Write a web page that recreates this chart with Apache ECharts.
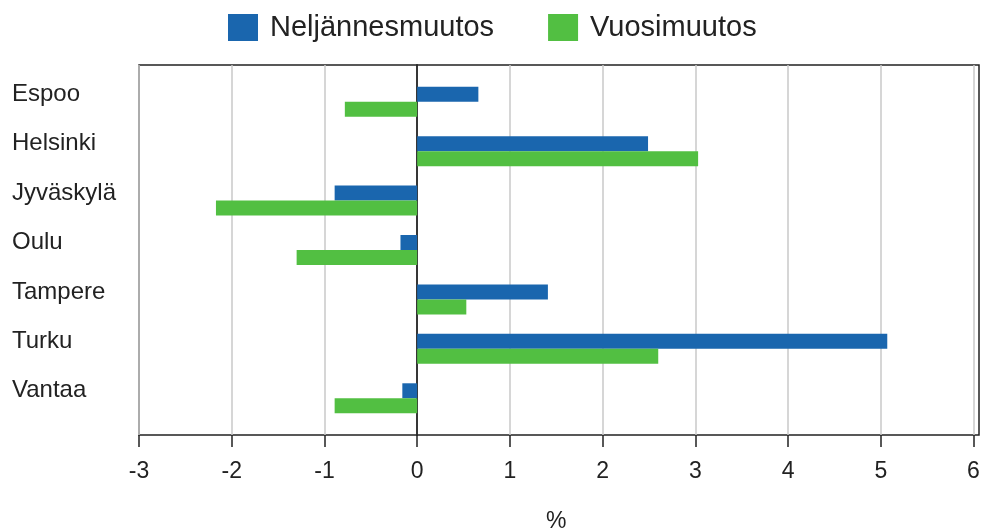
<!DOCTYPE html>
<html>
<head>
<meta charset="utf-8">
<script src="https://cdn.jsdelivr.net/npm/echarts@6/dist/echarts.min.js"></script>
<style>
  html, body { margin: 0; padding: 0; background: #fff; }
  #chart { width: 981px; height: 532px; }
</style>
</head>
<body>
<div id="chart"></div>
<script>
// data
const cities = ['Espoo', 'Helsinki', 'Jyväskylä', 'Oulu', 'Tampere', 'Turku', 'Vantaa'];
const neljannes = [0.66, 2.49, -0.89, -0.18, 1.41, 5.07, -0.16];
const vuosi = [-0.78, 3.03, -2.17, -1.30, 0.53, 2.60, -0.89];
const seriesNames = ['Neljännesmuutos', 'Vuosimuutos'];
const xMin = -3, xMax = 6, xStep = 1;

const font = 'Liberation Sans, Arial, sans-serif';
const ink = '#222';

var myChart = echarts.init(document.getElementById('chart'));
var option = {
  animation: false,
  color: ['#1a66ae', '#52bf42'],
  textStyle: { fontFamily: font },
  legend: {
    data: seriesNames,
    left: 223,
    top: 8,
    itemWidth: 30,
    itemHeight: 27,
    itemGap: 54,
    icon: 'rect',
    textStyle: { fontSize: 29, color: ink, fontFamily: font, padding: [0, 0, 0, 7] }
  },
  grid: [
    // frame
    { left: 139, top: 65, width: 840, height: 370, show: true, borderColor: ink, borderWidth: 1.5,
      backgroundColor: 'transparent', outerBoundsMode: 'none' },
    // axis
    { left: 139, top: 65, width: 834.5, height: 370, outerBoundsMode: 'none' },
    // bars
    { left: 139, top: 77, width: 834.5, height: 346, outerBoundsMode: 'none' }
  ],
  xAxis: [
    { gridIndex: 0, type: 'value', show: false, min: 0, max: 1 },
    {
      gridIndex: 1, type: 'value', min: xMin, max: xMax, interval: xStep,
      name: '%', nameLocation: 'middle', nameGap: 75,
      nameTextStyle: { fontSize: 23, color: ink, fontFamily: font },
      axisLine: { show: false },
      axisTick: { show: true, inside: false, length: 12, lineStyle: { color: ink, width: 1.5 } },
      axisLabel: { fontSize: 23, color: ink, margin: 25, fontFamily: font },
      splitLine: { show: true, lineStyle: { color: '#c8c8c8', width: 1.5 } }
    },
    { gridIndex: 2, type: 'value', show: false, min: xMin, max: xMax, interval: xStep, splitLine: { show: false } }
  ],
  yAxis: [
    { gridIndex: 0, type: 'value', show: false, min: 0, max: 1 },
    {
      gridIndex: 1, type: 'category', data: cities, inverse: true,
      axisLine: { show: true, onZero: true, lineStyle: { color: '#000', width: 1.5 } },
      axisTick: { show: false },
      axisLabel: { show: false },
      splitLine: { show: false }
    },
    {
      gridIndex: 2, type: 'category', data: cities, inverse: true,
      axisLine: { show: false },
      axisTick: { show: false },
      axisLabel: {
        align: 'left', verticalAlign: 'bottom', lineHeight: 15,
        margin: 127, fontSize: 24, color: ink, fontFamily: font
      }
    }
  ],
  series: [
    {
      name: seriesNames[0], type: 'bar', xAxisIndex: 2, yAxisIndex: 2,
      data: neljannes, barWidth: 15, barGap: '0%'
    },
    {
      name: seriesNames[1], type: 'bar', xAxisIndex: 2, yAxisIndex: 2,
      data: vuosi, barWidth: 15, barGap: '0%'
    }
  ]
};
option && myChart.setOption(option);
</script>
</body>
</html>
